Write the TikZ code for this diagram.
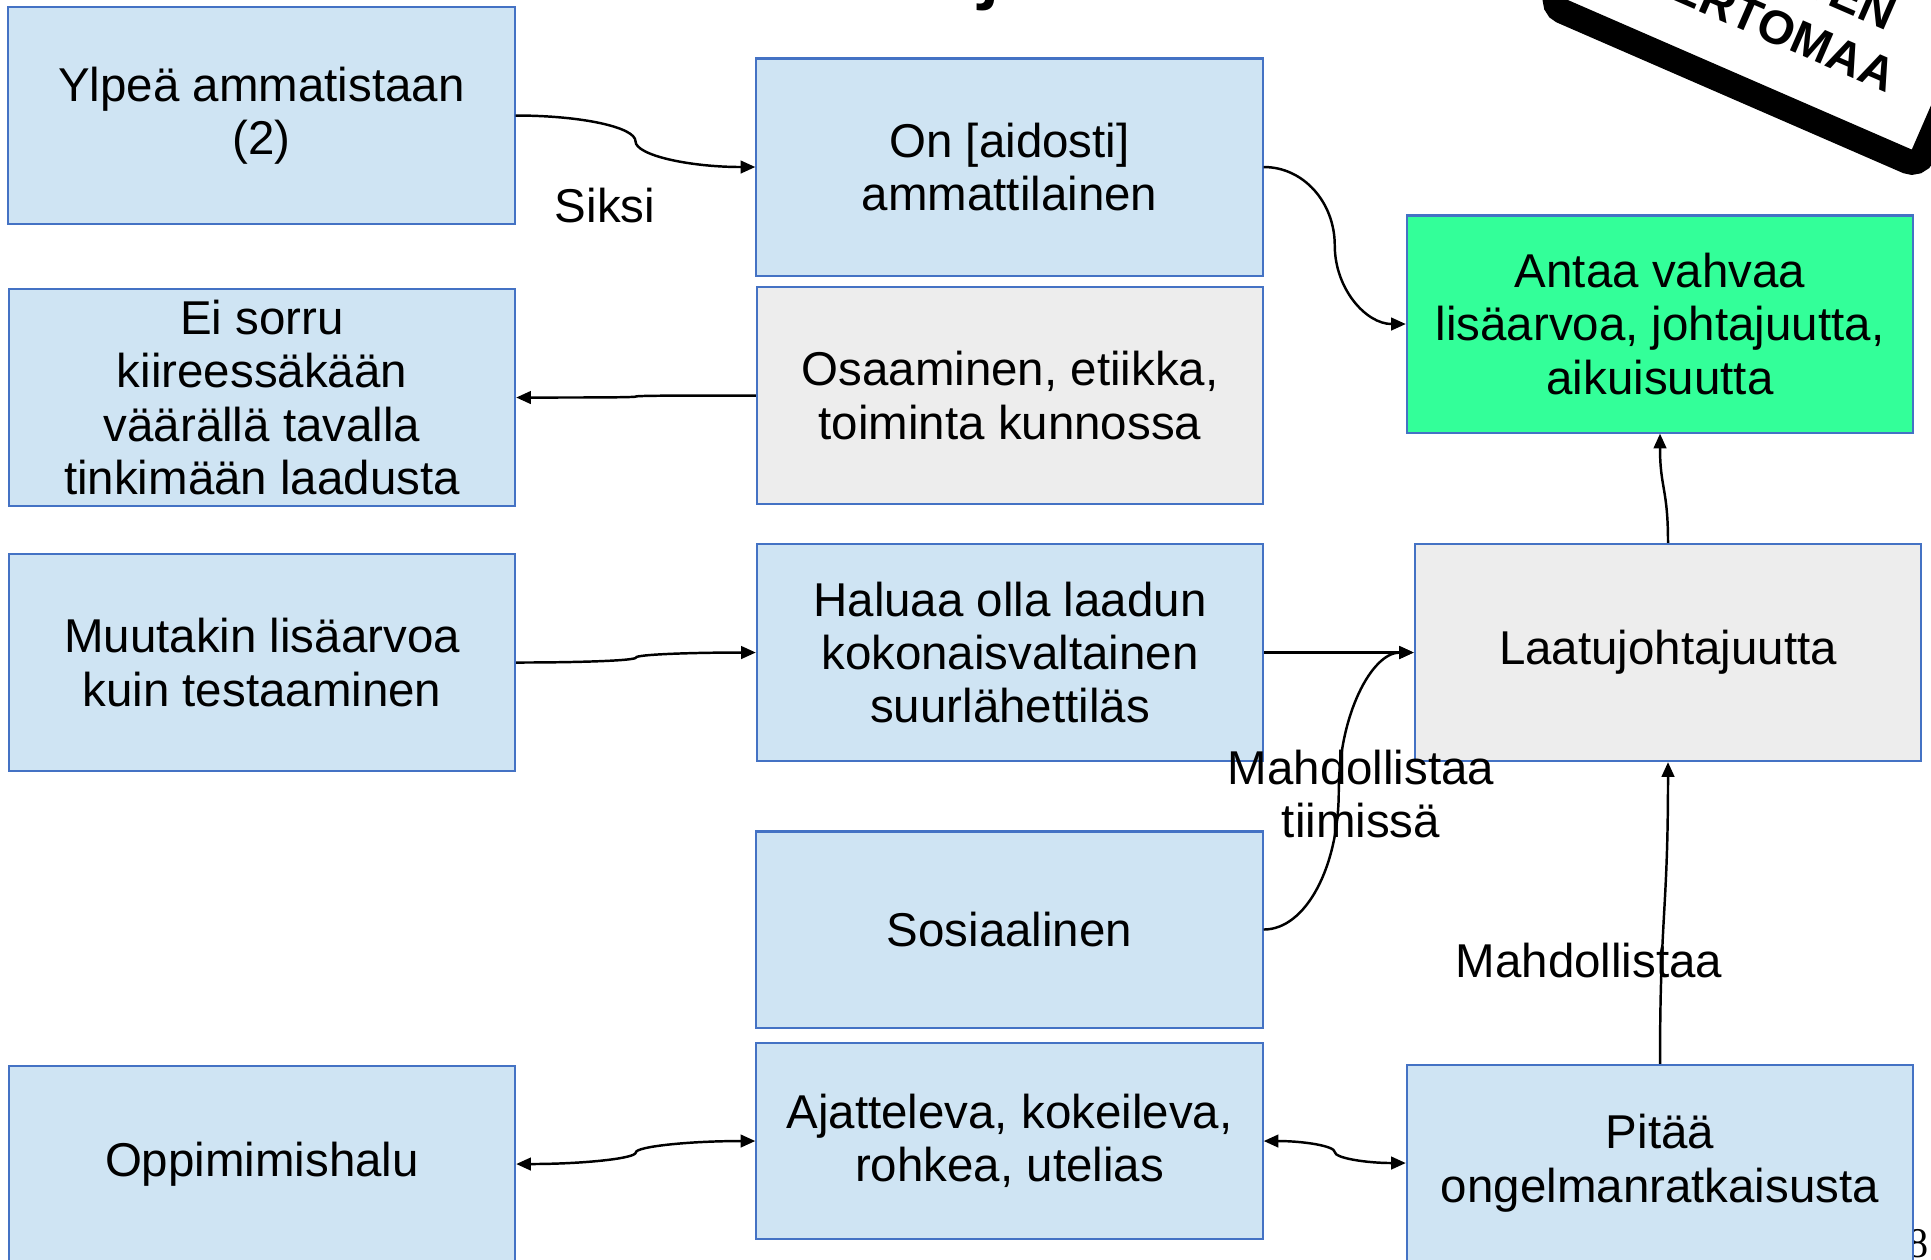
\documentclass[tikz,border=0pt]{standalone}
\usepackage{fontspec}
\setmainfont{Liberation Sans}
\newfontfamily\pagefont{Liberation Serif}
\usepackage{tikz}
\usetikzlibrary{arrows.meta,calc}

\definecolor{boxblue}{RGB}{207,228,243}
\definecolor{boxgrey}{RGB}{237,237,237}
\definecolor{boxgreen}{RGB}{51,255,153}
\definecolor{edgeblue}{RGB}{68,114,196}

\begin{document}
\begin{tikzpicture}[x=0.01cm, y=-0.01cm,
  box/.style={draw=edgeblue, line width=0.6pt, fill=boxblue, minimum width=5.06cm,
    minimum height=2.17cm, inner sep=0pt, align=center, font=\fontsize{13.5}{15.2}\selectfont},
  greybox/.style={box, fill=boxgrey},
  greenbox/.style={box, fill=boxgreen},
  conn/.style={line width=0.7pt, -{Triangle[length=4.2pt,width=3.6pt]}},
  twoway/.style={line width=0.7pt, {Triangle[length=4.2pt,width=3.6pt]}-{Triangle[length=4.2pt,width=3.6pt]}},
  lbl/.style={align=center, inner sep=0pt, font=\fontsize{13.5}{15.2}\selectfont}]
  \useasboundingbox (0,0) rectangle (1931,1259);
  \clip (0,0) rectangle (1931,1259);

  % Title and page number, cut by the page edge
  \node[font=\fontsize{28}{30}\selectfont, anchor=base, inner sep=0pt] (title) at (990,-10) {j};
  \node[font=\pagefont\fontsize{12}{14}\selectfont, anchor=base west, inner sep=0pt] (pagenum) at (1907,1257) {81};

  % Stamp in the top right corner
  \begin{scope}[shift={(1535,13)}, rotate=-23.5, transform shape]
    \draw[line width=0.25cm, rounded corners=0.12cm, fill=white] (12.5,-12.5) rectangle (412.5,-330);
    \node[font=\bfseries\fontsize{13.5}{16}\selectfont, anchor=base east, inner sep=0pt] (stampa) at (331,-124) {TEN};
    \node[font=\bfseries\fontsize{13.5}{16}\selectfont, anchor=base east, inner sep=0pt] (stampb) at (355,-67) {ERTOMAA};
  \end{scope}

  % Left column
  \node[box] (ylpea) at (261.5,115.5) {Ylpeä ammatistaan\\(2)};
  \node[box] (eisorru) at (262,397.5) {Ei sorru\\kiireessäkään\\väärällä tavalla\\tinkimään laadusta};
  \node[box] (muutakin) at (262,662.5) {Muutakin lisäarvoa\\kuin testaaminen};
  \node[box, minimum height=1.96cm] (oppimis) at (262,1164) {Oppimimishalu};

  % Middle column
  \node[box] (ammatti) at (1009.5,167) {On [aidosti]\\ammattilainen};
  \node[greybox] (osaaminen) at (1010,395.5) {Osaaminen, etiikka,\\toiminta kunnossa};
  \node[box] (haluaa) at (1010,652.5) {Haluaa olla laadun\\kokonaisvaltainen\\suurlähettiläs};
  \node[box, minimum height=1.96cm] (sosiaali) at (1009.5,929.5) {Sosiaalinen};
  \node[box, minimum height=1.96cm] (ajattelee) at (1009.5,1141) {Ajatteleva, kokeileva,\\rohkea, utelias};

  % Right column
  \node[greenbox] (antaa) at (1660,324) {Antaa vahvaa\\lisäarvoa, johtajuutta,\\aikuisuutta};
  \node[greybox] (laatu) at (1668,652.5) {Laatujohtajuutta};
  \node[box, minimum height=1.96cm] (pitaa) at (1660,1163) {Pitää\\ongelmanratkaisusta};

  % Connectors
  \draw[conn] (ylpea.east) .. controls +(66,0) and +(0,-14) .. ($(ylpea.east)!.5!(ammatti.west)$)
    .. controls +(0,14) and +(-66,0) .. (ammatti.west);
  \draw[conn] (ammatti.east) .. controls +(40,0) and +(0,-43) .. ($(ammatti.east)!.5!(antaa.west)$)
    .. controls +(0,43) and +(-40,0) .. (antaa.west);
  \draw[conn] (osaaminen.west) .. controls +(-66,0) and +(0,-1) .. ($(osaaminen.west)!.5!(eisorru.east)$)
    .. controls +(0,1) and +(66,0) .. (eisorru.east);
  \draw[conn] (muutakin.east) .. controls +(66,0) and +(0,3) .. ($(muutakin.east)!.5!(haluaa.west)$)
    .. controls +(0,-3) and +(-66,0) .. (haluaa.west);
  \draw[conn] (haluaa.east) -- (laatu.west);
  \draw[conn] (sosiaali.east) .. controls +(42,0) and +(0,76) .. ($(sosiaali.east)!.5!(laatu.west)$)
    .. controls +(0,-76) and +(-42,0) .. (laatu.west);
  \draw[conn] (laatu.north) .. controls +(0,-55) and +(0,55) .. (antaa.south);
  \draw[conn] (pitaa.north) .. controls +(0,-150) and +(0,150) .. (laatu.south);
  \draw[twoway] (oppimis.east) .. controls +(66,0) and +(0,6) .. ($(oppimis.east)!.5!(ajattelee.west)$)
    .. controls +(0,-6) and +(-66,0) .. (ajattelee.west);
  \draw[twoway] (ajattelee.east) .. controls +(40,0) and +(0,-6) .. ($(ajattelee.east)!.5!(pitaa.west)$)
    .. controls +(0,6) and +(-40,0) .. (pitaa.west);

  % Connector labels
  \node[lbl] (siksi) at (605,206) {Siksi};
  \node[lbl] (tiimi) at (1361,794) {Mahdollistaa\\tiimissä};
  \node[lbl] (mahd) at (1589,960) {Mahdollistaa};
\end{tikzpicture}
\end{document}
